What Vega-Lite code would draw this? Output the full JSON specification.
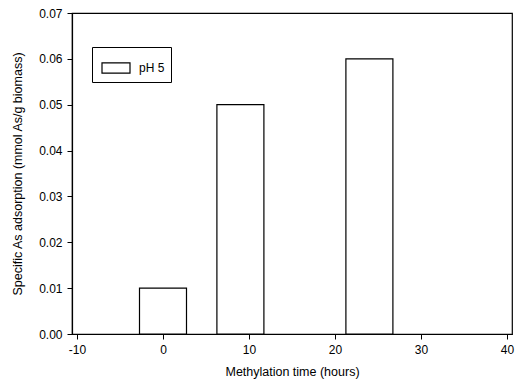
{
  "$schema": "https://vega.github.io/schema/vega-lite/v6.json",
  "width": 440,
  "height": 321,
  "autosize": {"type": "none"},
  "padding": {"left": 72, "top": 13, "right": 15, "bottom": 56},
  "background": "white",
  "config": {
    "view": {"stroke": "black", "strokeWidth": 1.2},
    "font": "Liberation Sans",
    "axis": {"grid": false, "domainColor": "black", "tickColor": "black", "labelColor": "black", "titleColor": "black", "labelFontSize": 12, "titleFontSize": 12.5, "titleFontWeight": "normal", "tickSize": 5, "domainWidth": 1.2}
  },
  "data": {"values": [
    {"time": 0, "value": 0.01, "series": "pH 5"},
    {"time": 9, "value": 0.05, "series": "pH 5"},
    {"time": 24, "value": 0.06, "series": "pH 5"}
  ]},
  "mark": {"type": "bar", "width": 47, "fill": "white", "strokeWidth": 1.2},
  "encoding": {
    "x": {"field": "time", "type": "quantitative", "scale": {"domain": [-10, 40], "nice": false}, "axis": {"values": [-10, 0, 10, 20, 30, 40], "labelExpr": "'' + datum.value", "title": "Methylation time (hours)", "labelPadding": 5, "titlePadding": 10}},
    "y": {"field": "value", "type": "quantitative", "scale": {"domain": [0, 0.07], "nice": false}, "axis": {"values": [0, 0.01, 0.02, 0.03, 0.04, 0.05, 0.06, 0.07], "format": ".2f", "title": "Specific As adsorption (mmol As/g biomass)", "labelPadding": 5, "titlePadding": 14}},
    "stroke": {"field": "series", "type": "nominal", "scale": {"range": ["black"]}, "legend": {"title": null, "orient": "none", "legendX": 20, "legendY": 34, "symbolType": "M-1,-0.36H1V0.36H-1Z", "symbolSize": 784, "symbolFillColor": "white", "symbolStrokeWidth": 1.2, "symbolOffset": 3, "labelFontSize": 12, "labelColor": "black", "labelExpr": "datum.label + '  '", "strokeColor": "black", "padding": 6, "fillColor": "white", "labelOffset": 8}}
  }
}
